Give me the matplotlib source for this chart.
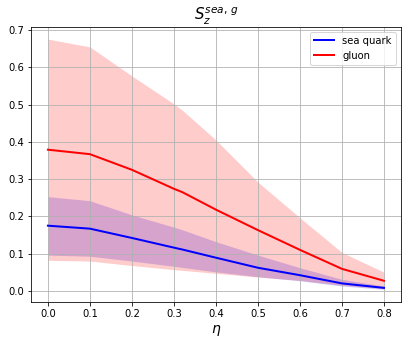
import numpy as np
import matplotlib
matplotlib.use("Agg")
import matplotlib.pyplot as plt

# eta grid
eta = [0.0, 0.1, 0.2, 0.3, 0.32, 0.4, 0.5, 0.6, 0.7, 0.8]

# sea quark: central, upper, lower
sea = [0.175, 0.167, 0.142, 0.116, 0.111, 0.089, 0.062, 0.042, 0.020, 0.008]
sea_hi = [0.253, 0.242, 0.204, 0.171, 0.164, 0.132, 0.096, 0.062, 0.031, 0.013]
sea_lo = [0.096, 0.093, 0.080, 0.066, 0.063, 0.051, 0.038, 0.027, 0.013, 0.004]

# gluon: central, upper, lower
glu = [0.379, 0.367, 0.325, 0.274, 0.265, 0.218, 0.163, 0.110, 0.059, 0.027]
glu_hi = [0.676, 0.655, 0.577, 0.502, 0.485, 0.405, 0.292, 0.196, 0.103, 0.050]
glu_lo = [0.082, 0.080, 0.068, 0.057, 0.055, 0.047, 0.037, 0.028, 0.015, 0.006]

fig = plt.figure(figsize=(409 / 72, 345 / 72), dpi=72)
ax = fig.add_axes([0.076, 0.125, 0.904, 0.798])

ax.fill_between(eta, sea_lo, sea_hi, color="blue", alpha=0.2, linewidth=0)
ax.fill_between(eta, glu_lo, glu_hi, color="red", alpha=0.2, linewidth=0)
ax.plot(eta, sea, color="blue", lw=2, label="sea quark")
ax.plot(eta, glu, color="red", lw=2, label="gluon")

ax.set_xticks(np.arange(0, 0.81, 0.1))
ax.set_yticks(np.arange(0, 0.71, 0.1))
ax.grid(True)
ax.set_xlabel(r"$\eta$", fontsize=14)
ax.set_title(r"$S_z^{sea,\,g}$", fontsize=15)
ax.legend(loc="upper right")

fig.savefig("out.png", dpi=72)
